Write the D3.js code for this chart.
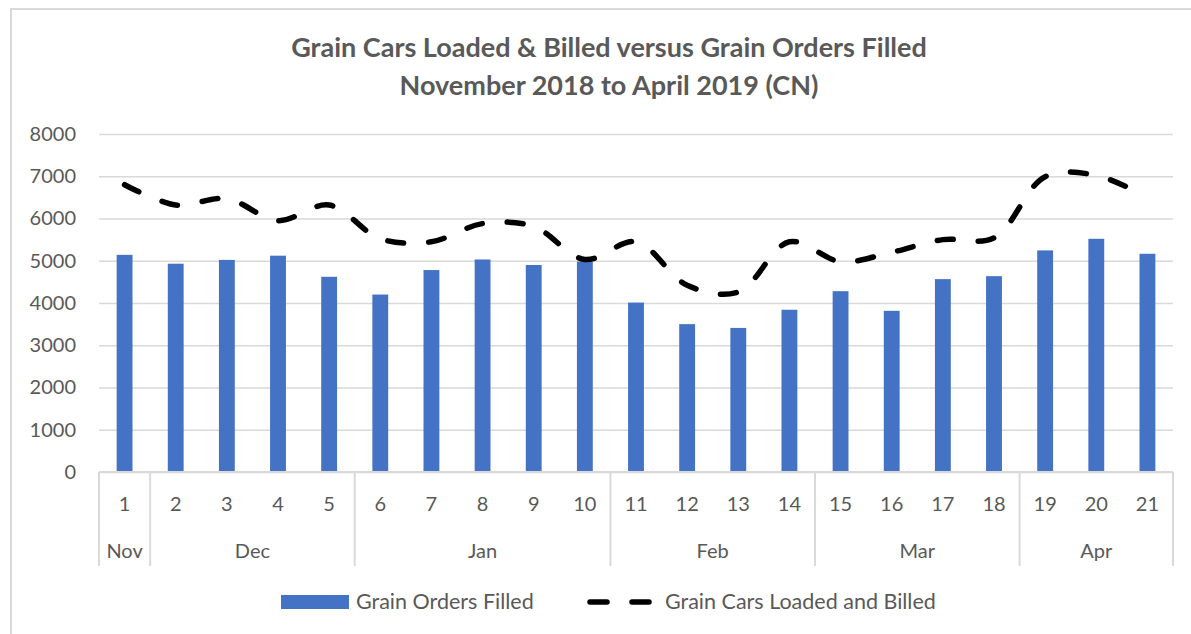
<!DOCTYPE html>
<html>
<head>
<meta charset="utf-8">
<script src="https://cdn.jsdelivr.net/npm/d3@7"></script>
<style>
  body { margin: 0; background: #fff; }
  text { font-family: Lato, "Open Sans", sans-serif; fill: #595959; }
</style>
</head>
<body>
<div id="chart"></div>
<script>
// data
const weeks = ["1","2","3","4","5","6","7","8","9","10","11","12","13","14","15","16","17","18","19","20","21"];
const months = [
  { name: "Nov", from: 0, to: 1 },
  { name: "Dec", from: 1, to: 5 },
  { name: "Jan", from: 5, to: 10 },
  { name: "Feb", from: 10, to: 14 },
  { name: "Mar", from: 14, to: 18 },
  { name: "Apr", from: 18, to: 21 }
];
const ordersFilled = [5140, 4930, 5020, 5120, 4620, 4200, 4780, 5030, 4900, 4980, 4010, 3500, 3410, 3840, 4280, 3815, 4565, 4635, 5245, 5520, 5165];
const carsLoaded = [6800, 6320, 6470, 5950, 6320, 5520, 5450, 5880, 5810, 5030, 5450, 4420, 4260, 5450, 4980, 5200, 5500, 5540, 6990, 7020, 6500];
const yTicks = [0, 1000, 2000, 3000, 4000, 5000, 6000, 7000, 8000];

document.addEventListener("DOMContentLoaded", function () {

  const widthValue = 1191;
  const heightValue = 634;
  const margin = { top: 134, right: 18, bottom: 162, left: 99 };
  const width = widthValue - margin.left - margin.right;
  const height = heightValue - margin.top - margin.bottom;

  const svg = d3.select("#chart")
    .append("svg")
    .attr("width", widthValue)
    .attr("height", heightValue);

  // outer chart border
  svg.append("rect")
    .attr("x", 11).attr("y", 9)
    .attr("width", widthValue + 20).attr("height", heightValue + 20)
    .attr("fill", "none")
    .attr("stroke", "#d9d9d9")
    .attr("stroke-width", 2);

  // title
  const title = svg.append("text")
    .attr("text-anchor", "middle")
    .style("font-weight", "bold")
    .style("font-size", "27px");
  title.append("tspan").attr("x", 609).attr("y", 57).text("Grain Cars Loaded & Billed versus Grain Orders Filled");
  title.append("tspan").attr("x", 609).attr("y", 95).text("November 2018 to April 2019 (CN)");

  const g = svg.append("g")
    .attr("transform", `translate(${margin.left}, ${margin.top})`);

  const xScale = d3.scaleBand()
    .domain(weeks)
    .range([0, width])
    .paddingInner(0.69)
    .paddingOuter(0.345);

  const yScale = d3.scaleLinear()
    .domain([0, 8000])
    .range([height, 0]);

  // gridlines
  g.append("g")
    .call(d3.axisLeft(yScale).tickValues(yTicks).tickSize(-width).tickFormat(""))
    .call(s => s.select(".domain").remove())
    .call(s => s.selectAll("line").attr("stroke", "#d9d9d9").attr("stroke-width", 1.3));

  // y labels
  g.append("g")
    .call(d3.axisLeft(yScale).tickValues(yTicks).tickSize(0).tickPadding(23).tickFormat(d3.format("d")))
    .call(s => s.select(".domain").remove())
    .call(s => s.selectAll("text").style("font-size", "20px").style("font-family", "Lato, sans-serif").attr("fill", "#595959"));

  // bars
  g.append("g")
    .selectAll("rect")
    .data(ordersFilled)
    .enter()
    .append("rect")
      .attr("x", (d, i) => xScale(weeks[i]))
      .attr("y", d => yScale(d))
      .attr("width", xScale.bandwidth())
      .attr("height", d => height - yScale(d))
      .attr("fill", "#4472c4");

  // dashed smooth line
  const line = d3.line()
    .x((d, i) => xScale(weeks[i]) + xScale.bandwidth() / 2)
    .y(d => yScale(d))
    .curve(d3.curveCatmullRom.alpha(0.5));

  g.append("path")
    .datum(carsLoaded)
    .attr("d", line)
    .attr("fill", "none")
    .attr("stroke", "#000")
    .attr("stroke-width", 5.5)
    .attr("stroke-linecap", "round")
    .attr("stroke-dasharray", "16,25");

  // category axis (two levels)
  const step = xScale.step();
  const axisG = g.append("g").attr("transform", `translate(0, ${height})`);
  axisG.append("line")
    .attr("x1", 0).attr("x2", width)
    .attr("stroke", "#d9d9d9").attr("stroke-width", 2);

  const bounds = [0].concat(months.map(m => m.to));
  axisG.selectAll(".sep")
    .data(bounds)
    .enter()
    .append("line")
      .attr("x1", d => d * step).attr("x2", d => d * step)
      .attr("y1", 0).attr("y2", 94)
      .attr("stroke", "#d9d9d9").attr("stroke-width", 2);

  axisG.selectAll(".wk")
    .data(weeks)
    .enter()
    .append("text")
      .attr("x", d => xScale(d) + xScale.bandwidth() / 2)
      .attr("y", 39)
      .attr("text-anchor", "middle")
      .style("font-size", "20px")
      .text(d => d);

  axisG.selectAll(".mo")
    .data(months)
    .enter()
    .append("text")
      .attr("x", d => (d.from + d.to) / 2 * step)
      .attr("y", 86)
      .attr("text-anchor", "middle")
      .style("font-size", "20px")
      .text(d => d.name);

  // legend
  const legend = svg.append("g");
  legend.append("rect")
    .attr("x", 281).attr("y", 595)
    .attr("width", 68).attr("height", 14)
    .attr("fill", "#4472c4");
  legend.append("text")
    .attr("x", 356).attr("y", 609)
    .style("font-size", "21.5px")
    .text("Grain Orders Filled");
  legend.append("line")
    .attr("x1", 590).attr("x2", 651)
    .attr("y1", 602).attr("y2", 602)
    .attr("stroke", "#000")
    .attr("stroke-width", 5.5)
    .attr("stroke-linecap", "round")
    .attr("stroke-dasharray", "17,25");
  legend.append("text")
    .attr("x", 665).attr("y", 609)
    .style("font-size", "21.5px")
    .text("Grain Cars Loaded and Billed");
});
</script>
</body>
</html>
